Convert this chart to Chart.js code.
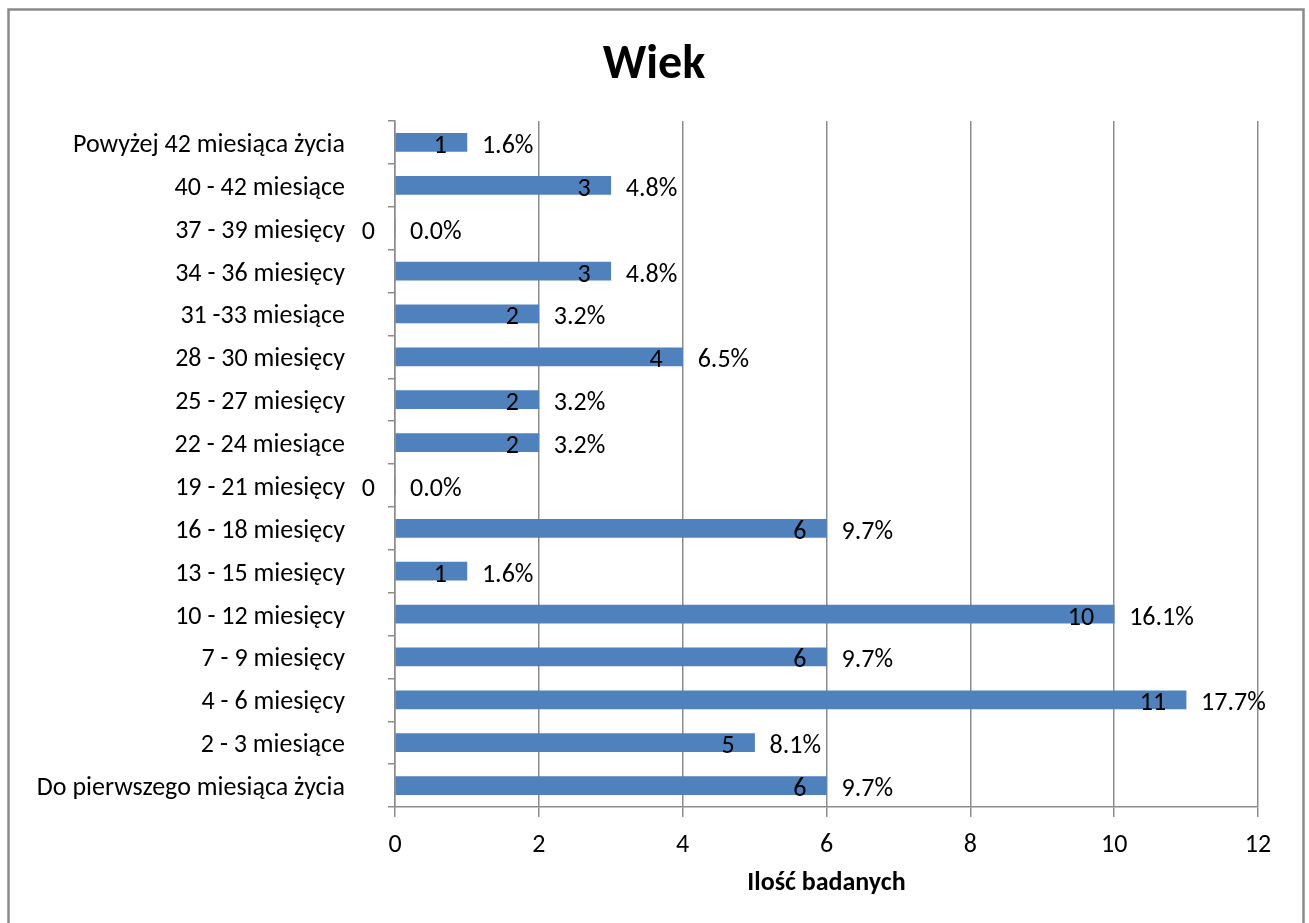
<!DOCTYPE html>
<html>
<head>
<meta charset="utf-8">
<script src="https://cdn.jsdelivr.net/npm/chart.js@4.4.1/dist/chart.umd.min.js"></script>
<style>
  html, body { margin: 0; padding: 0; background: #ffffff; }
  #wrap { position: relative; width: 1309px; height: 923px; }
</style>
</head>
<body>
<div id="wrap"><canvas id="chart" width="1309" height="923"></canvas></div>
<script>
// Age groups, listed top to bottom as shown on the vertical axis
const categories = [
  'Powyżej 42 miesiąca życia',
  '40 - 42 miesiące',
  '37 - 39 miesięcy',
  '34 - 36 miesięcy',
  '31 -33 miesiące',
  '28 - 30 miesięcy',
  '25 - 27 miesięcy',
  '22 - 24 miesiące',
  '19 - 21 miesięcy',
  '16 - 18 miesięcy',
  '13 - 15 miesięcy',
  '10 - 12 miesięcy',
  '7 - 9 miesięcy',
  '4 - 6 miesięcy',
  '2 - 3 miesiące',
  'Do pierwszego miesiąca życia'
];
// Number of examined children in each group
const counts = [1, 3, 0, 3, 2, 4, 2, 2, 0, 6, 1, 10, 6, 11, 5, 6];
// Share of each group in the whole sample
const shares = ['1.6%', '4.8%', '0.0%', '4.8%', '3.2%', '6.5%', '3.2%', '3.2%', '0.0%', '9.7%', '1.6%', '16.1%', '9.7%', '17.7%', '8.1%', '9.7%'];
const xTicks = [0, 2, 4, 6, 8, 10, 12];

const FONT = "Carlito, Lato, 'Open Sans', sans-serif";
const GRID = '#8c8c8c';
const BAR = '#4f81bd';
const TEXT_SIZE = 26;

// Outer frame around the whole chart
const framePlugin = {
  id: 'frame',
  afterDraw(chart) {
    const ctx = chart.ctx;
    ctx.save();
    ctx.strokeStyle = '#8a8a8a';
    ctx.lineWidth = 2.5;
    ctx.strokeRect(8.5, 9.5, 1295, 930);
    ctx.restore();
  }
};

// Count label at the inner end of each bar and share label past it
const valueLabels = {
  id: 'valueLabels',
  afterDatasetsDraw(chart) {
    const ctx = chart.ctx;
    const meta = chart.getDatasetMeta(0);
    const xs = chart.scales.x;
    ctx.save();
    ctx.font = TEXT_SIZE + 'px ' + FONT;
    ctx.fillStyle = '#000000';
    ctx.textBaseline = 'middle';
    meta.data.forEach((bar, i) => {
      const end = xs.getPixelForValue(counts[i]);
      const y = bar.y + 4;
      ctx.textAlign = 'right';
      ctx.fillText(String(counts[i]), end - 20, y);
      ctx.textAlign = 'left';
      ctx.fillText(shares[i], end + 15, y);
    });
    ctx.restore();
  }
};

// Chart heading
const headingPlugin = {
  id: 'chartTitle',
  afterDraw(chart) {
    const ctx = chart.ctx;
    ctx.save();
    ctx.font = 'bold 48px ' + FONT;
    ctx.fillStyle = '#000000';
    ctx.textAlign = 'center';
    ctx.textBaseline = 'alphabetic';
    ctx.fillText('Wiek', 654, 78);
    ctx.restore();
  }
};

new Chart(document.getElementById('chart'), {
  type: 'bar',
  data: {
    labels: categories,
    datasets: [{
      label: 'Ilość badanych',
      data: counts,
      backgroundColor: BAR,
      borderWidth: 0,
      barThickness: 18
    }]
  },
  options: {
    indexAxis: 'y',
    responsive: false,
    animation: false,
    layout: { padding: { top: 121, right: 51, left: 0, bottom: 0 } },
    plugins: {
      legend: { display: false },
      tooltip: { enabled: false },
      title: { display: false }
    },
    scales: {
      x: {
        min: 0,
        max: 12,
        afterBuildTicks(scale) {
          scale.ticks = xTicks.map(v => ({ value: v }));
        },
        afterFit(scale) { scale.height = 116; },
        grid: {
          color: GRID,
          lineWidth: 1.5,
          drawTicks: true,
          tickLength: 10,
          tickColor: GRID
        },
        border: { color: GRID, width: 1.5 },
        ticks: {
          color: '#000000',
          padding: 13,
          font: { family: FONT, size: TEXT_SIZE }
        },
        title: {
          display: true,
          text: 'Ilość badanych',
          color: '#000000',
          font: { family: FONT, size: 26, weight: 'bold' },
          padding: { top: 0, bottom: 24 }
        }
      },
      y: {
        afterFit(scale) { scale.width = 395; },
        grid: {
          display: true,
          drawOnChartArea: false,
          drawTicks: true,
          tickLength: 7,
          offset: true,
          color: GRID,
          tickColor: GRID,
          lineWidth: 1.5
        },
        border: { color: GRID, width: 1.5 },
        ticks: {
          color: '#000000',
          padding: 43,
          labelOffset: 3,
          autoSkip: false,
          font: { family: FONT, size: TEXT_SIZE }
        }
      }
    }
  },
  plugins: [framePlugin, valueLabels, headingPlugin]
});
</script>
</body>
</html>
